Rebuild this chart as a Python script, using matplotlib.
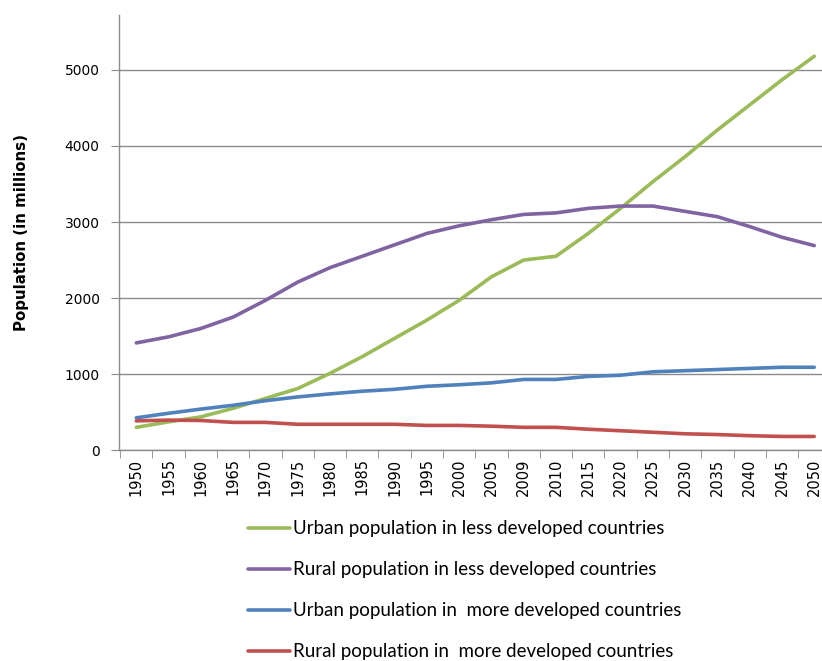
import numpy as np
import matplotlib
matplotlib.use("Agg")
import matplotlib.pyplot as plt

years = ["1950", "1955", "1960", "1965", "1970", "1975", "1980", "1985", "1990", "1995",
         "2000", "2005", "2009", "2010", "2015", "2020", "2025", "2030", "2035", "2040",
         "2045", "2050"]

urban_less = [300, 372, 438, 550, 680, 810, 1010, 1230, 1470, 1710,
              1970, 2280, 2500, 2550, 2850, 3180, 3530, 3860, 4210, 4540,
              4870, 5180]
rural_less = [1410, 1490, 1600, 1750, 1970, 2210, 2400, 2550, 2700, 2850,
              2950, 3030, 3100, 3120, 3180, 3210, 3210, 3140, 3070, 2940,
              2800, 2690]
urban_more = [425, 485, 540, 590, 650, 700, 740, 775, 800, 840,
              860, 885, 930, 930, 970, 985, 1030, 1045, 1060, 1075,
              1090, 1090]
rural_more = [385, 395, 390, 365, 365, 340, 340, 340, 340, 325,
              325, 315, 300, 300, 275, 255, 235, 215, 205, 190,
              180, 180]

series = [
    (urban_less, "#9BBB59", "Urban population in less developed countries"),
    (rural_less, "#8064A2", "Rural population in less developed countries"),
    (urban_more, "#4F81BD", "Urban population in  more developed countries"),
    (rural_more, "#C0504D", "Rural population in  more developed countries"),
]

fig = plt.figure(figsize=(8.22, 6.61), dpi=100)
ax = fig.add_axes([0.145, 0.319, 0.855, 0.658])

x = np.arange(len(years))
for vals, color, label in series:
    ax.plot(x, vals, color=color, linewidth=2.6, label=label, solid_capstyle="round")

ax.set_xlim(-0.53, 21.24)
ax.set_ylim(0, 5720)
ax.set_yticks([0, 1000, 2000, 3000, 4000, 5000])
ax.yaxis.grid(True, color="#8a8a8a", linewidth=1)
ax.set_axisbelow(True)

ax.set_xticks(x)
ax.set_xticklabels(years, rotation=90, fontsize=10.5)
ax.tick_params(axis="x", which="major", length=0, pad=6)
ax.set_xticks(np.arange(-0.5, 21.5, 1), minor=True)
ax.tick_params(axis="x", which="minor", length=6, color="#8a8a8a", direction="out")
ax.tick_params(axis="y", length=6, color="#8a8a8a", labelsize=10, pad=8)

for s in ["top", "right"]:
    ax.spines[s].set_visible(False)
for s in ["left", "bottom"]:
    ax.spines[s].set_color("#8a8a8a")
    ax.spines[s].set_linewidth(1)

ax.set_ylabel("Population (in millions)", fontsize=10.8, fontweight="bold", labelpad=26)

leg = fig.legend(loc="upper left", bbox_to_anchor=(0.302, 0.213), frameon=False,
                 handlelength=2.25, handletextpad=0.15, labelspacing=1.28,
                 borderpad=0, borderaxespad=0,
                 prop={"family": "Lato", "size": 13.5})

fig.savefig("out.png", dpi=100)
